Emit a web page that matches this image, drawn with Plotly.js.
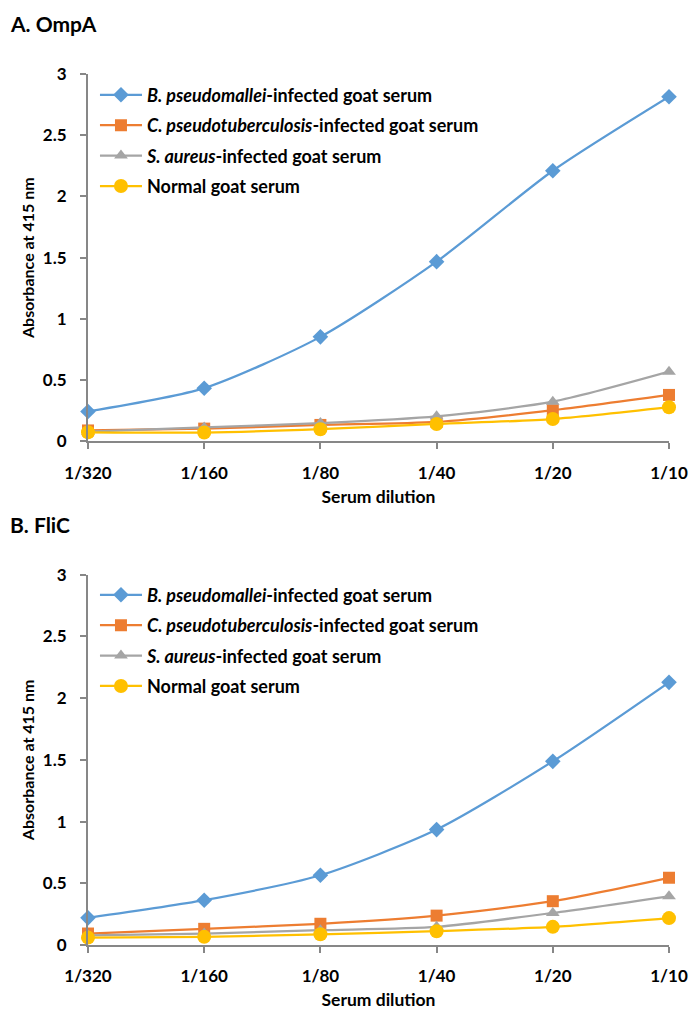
<!DOCTYPE html>
<html>
<head>
<meta charset="utf-8">
<script src="https://cdn.plot.ly/plotly-3.0.1.min.js"></script>
<style>html,body{margin:0;padding:0;background:#fff;}#chart{width:689px;height:1010px;}</style>
</head>
<body>
<div id="chart"></div>
<script>
const categories = ['1/320', '1/160', '1/80', '1/40', '1/20', '1/10'];
const seriesNames = [
  '<i>B. pseudomallei</i>-infected goat serum',
  '<i>C. pseudotuberculosis</i>-infected goat serum',
  '<i>S. aureus</i>-infected goat serum',
  'Normal goat serum'
];
const yTickValues = [0, 0.5, 1, 1.5, 2, 2.5, 3];
const yTickLabels = ['0', '0.5', '1', '1.5', '2', '2.5', '3'];

// A. OmpA
const ompaBp = [0.245, 0.435, 0.854, 1.468, 2.21, 2.814];
const ompaCp = [0.09, 0.105, 0.135, 0.16, 0.255, 0.38];
const ompaSa = [0.08, 0.115, 0.15, 0.205, 0.325, 0.57];
const ompaNormal = [0.075, 0.073, 0.1, 0.143, 0.183, 0.28];

// B. FliC
const flicBp = [0.22, 0.363, 0.565, 0.935, 1.488, 2.128];
const flicCp = [0.093, 0.131, 0.172, 0.238, 0.355, 0.545];
const flicSa = [0.077, 0.093, 0.12, 0.147, 0.26, 0.395];
const flicNormal = [0.06, 0.066, 0.087, 0.112, 0.147, 0.218];

const colors = ['#5B9BD5', '#ED7D31', '#A5A5A5', '#FFC000'];
const symbols = ['diamond', 'square', 'triangle-up', 'circle'];
const sizes = [12, 12, 12, 14];
const FONT = 'Lato, "Open Sans", sans-serif';

function mk(yvals, i, xa, ya, legendName) {
  return {
    type: 'scatter', mode: 'lines+markers',
    x: categories, y: yvals, name: seriesNames[i],
    xaxis: xa, yaxis: ya, legend: legendName,
    legendgroup: legendName + i,
    cliponaxis: false,
    line: {color: colors[i], width: 2.25, shape: 'spline', smoothing: 0.7},
    marker: {color: colors[i], symbol: symbols[i], size: sizes[i]}
  };
}

const traces = [];
[ompaBp, ompaCp, ompaSa, ompaNormal].forEach((v, i) => traces.push(mk(v, i, 'x', 'y', 'legend')));
[flicBp, flicCp, flicSa, flicNormal].forEach((v, i) => traces.push(mk(v, i, 'x2', 'y2', 'legend2')));

const axisColor = '#878787';
function xaxis(anchor) {
  return {
    anchor: anchor, domain: [0, 1], type: 'category', range: [0, 5],
    showline: true, linecolor: axisColor, linewidth: 2,
    ticks: 'outside', ticklen: 6, tickwidth: 2, tickcolor: axisColor,
    showgrid: false, zeroline: false,
    tickfont: {family: FONT, size: 17, color: '#000', weight: 'bold'},
    ticklabelstandoff: 9,
    title: {text: 'Serum dilution', standoff: 9, font: {family: FONT, size: 17.5, color: '#000', weight: 'bold'}}
  };
}
function yaxis(anchor, domain) {
  return {
    anchor: anchor, domain: domain, range: [0, 3],
    tickvals: yTickValues, ticktext: yTickLabels,
    showline: true, linecolor: axisColor, linewidth: 2,
    ticks: 'outside', ticklen: 6, tickwidth: 2, tickcolor: axisColor,
    showgrid: false, zeroline: false,
    tickfont: {family: FONT, size: 17, color: '#000', weight: 'bold'},
    ticklabelstandoff: 10,
    title: {text: 'Absorbance at 415 nm', standoff: 4, font: {family: FONT, size: 16, color: '#000', weight: 'bold'}}
  };
}
function legend(y) {
  return {
    x: 0.012, xanchor: 'left', y: y, yanchor: 'top',
    bgcolor: 'rgba(0,0,0,0)', borderwidth: 0,
    traceorder: 'grouped', tracegroupgap: 4, itemwidth: 42,
    font: {family: FONT, size: 18, color: '#000', weight: 'bold'}
  };
}

const layout = {
  width: 689, height: 1010,
  margin: {l: 88, r: 20, t: 74, b: 64.5},
  paper_bgcolor: '#fff', plot_bgcolor: '#fff',
  font: {family: FONT},
  xaxis: xaxis('y'), yaxis: yaxis('x', [0.5781, 1]),
  xaxis2: xaxis('y2'), yaxis2: yaxis('x2', [0, 0.4251]),
  legend: legend(0.997), legend2: legend(0.423),
  annotations: [
    {text: 'A. OmpA', xref: 'paper', yref: 'paper', x: -0.138, y: 1.058, xanchor: 'left', yanchor: 'middle', showarrow: false,
     font: {family: FONT, size: 21, color: '#000', weight: 'bold'}},
    {text: 'B. FliC', xref: 'paper', yref: 'paper', x: -0.138, y: 0.483, xanchor: 'left', yanchor: 'middle', showarrow: false,
     font: {family: FONT, size: 21, color: '#000', weight: 'bold'}}
  ],
  showlegend: true
};

Plotly.newPlot('chart', traces, layout, {displayModeBar: false, staticPlot: true});
</script>
</body>
</html>
